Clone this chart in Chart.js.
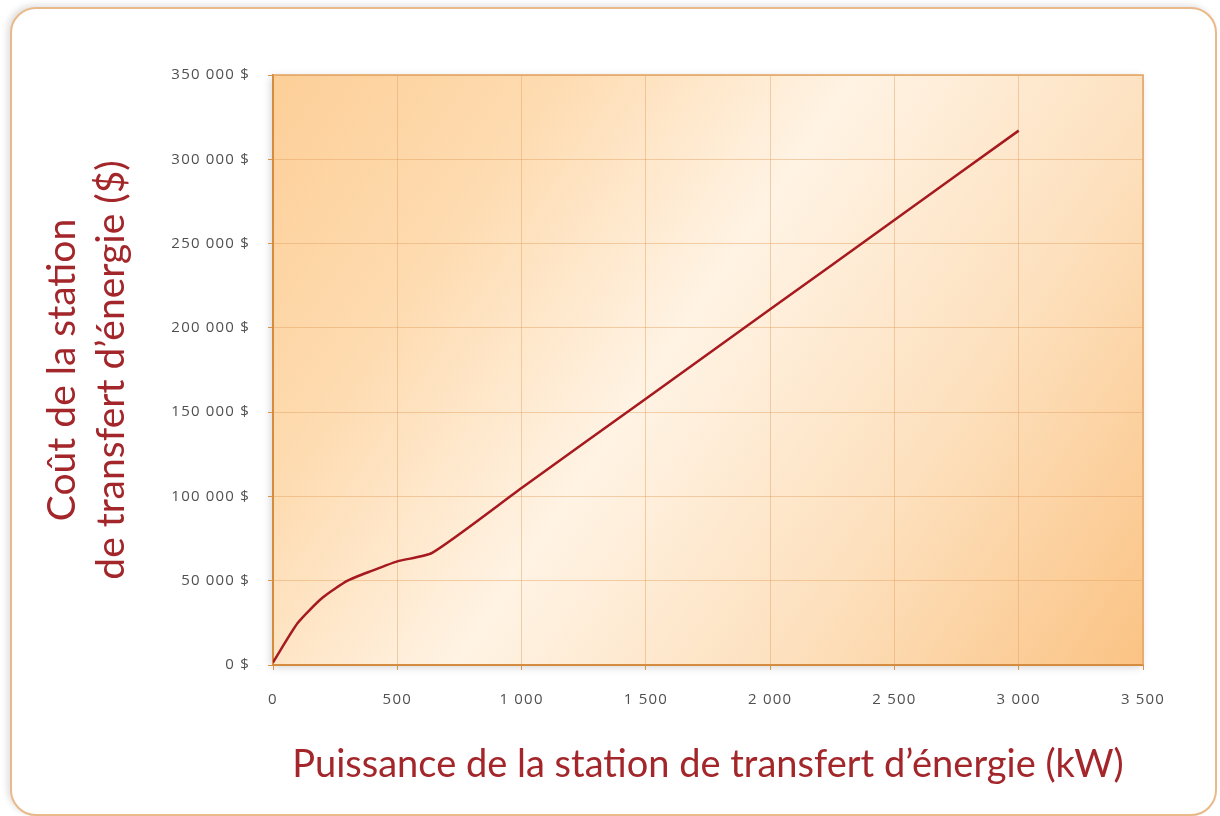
<!DOCTYPE html>
<html><head><meta charset="utf-8">
<script src="https://cdn.jsdelivr.net/npm/chart.js@4"></script>
<style>
html,body{margin:0;padding:0;background:#fff;}
#wrap{position:relative;width:1220px;height:816px;overflow:hidden;}
#frame{position:absolute;left:10px;top:7px;width:1203px;height:805px;border:2px solid #eab98a;border-radius:26px;box-shadow:-3px -2px 6px rgba(0,0,0,0.12);background:#fff;}
#c{position:absolute;left:0;top:0;}
</style></head><body>
<div id="wrap"><div id="frame"></div><canvas id="c" width="1220" height="816"></canvas></div>
<script>
const powerKW = [0, 100, 200, 300, 400, 500, 640, 1000, 1500, 2000, 2500, 3000];
const costUSD = [1500, 25000, 40000, 50000, 56000, 61500, 66500, 105000, 158000, 211000, 264000, 317000];
const xTicks = [0, 500, 1000, 1500, 2000, 2500, 3000, 3500];
const yTicks = [0, 50000, 100000, 150000, 200000, 250000, 300000, 350000];
const xTitle = 'Puissance de la station de transfert d\u2019énergie (kW)';
const yTitle = ['Coût de la station', 'de transfert d\u2019énergie ($)'];

const fmt = v => String(Math.round(v)).replace(/\B(?=(\d{3})+(?!\d))/g, '\u00a0');

const bgPlugin = {
  id: 'bg',
  beforeDraw(chart) {
    const {ctx, chartArea: a} = chart;
    ctx.letterSpacing = '0px';
    const g = ctx.createLinearGradient(a.left, a.top, a.right, a.bottom);
    g.addColorStop(0, '#fdcf98');
    g.addColorStop(0.22, '#fedbb0');
    g.addColorStop(0.46, '#fff3e4');
    g.addColorStop(0.72, '#fde0bd');
    g.addColorStop(1, '#fbc384');
    ctx.save();
    ctx.shadowColor = 'rgba(0,0,0,0.18)';
    ctx.shadowBlur = 8;
    ctx.shadowOffsetX = -2;
    ctx.shadowOffsetY = 2;
    ctx.fillStyle = g;
    ctx.fillRect(a.left, a.top, a.right - a.left, a.bottom - a.top);
    ctx.restore();
  },
  afterDatasetsDraw(chart) {
    const {ctx, chartArea: a} = chart;
    ctx.save();
    ctx.strokeStyle = '#e2a462';
    ctx.lineWidth = 1.5;
    ctx.beginPath();
    ctx.moveTo(a.left, a.top);
    ctx.lineTo(a.right, a.top);
    ctx.lineTo(a.right, a.bottom);
    ctx.stroke();
    ctx.restore();
    ctx.letterSpacing = '1.2px';
  },
  afterDraw(chart) {
    chart.ctx.letterSpacing = '0px';
  }
};

new Chart(document.getElementById('c'), {
  type: 'scatter',
  data: {
    datasets: [{
      data: powerKW.map((x, i) => ({x, y: costUSD[i]})),
      showLine: true,
      borderColor: '#a5191f',
      borderWidth: 2.5,
      pointRadius: 0,
      tension: 0.2,
      fill: false
    }]
  },
  options: {
    responsive: false,
    animation: false,
    devicePixelRatio: 1,
    layout: {padding: {left: 0, top: 75, right: 77, bottom: 0}},
    plugins: {legend: {display: false}, tooltip: {enabled: false}},
    scales: {
      x: {
        type: 'linear', min: 0, max: 3500,
        afterBuildTicks: s => { s.ticks = xTicks.map(v => ({value: v})); },
        afterFit: s => { s.height = 151; s.paddingLeft = 0; s.paddingRight = 0; },
        ticks: {z: 1, callback: v => fmt(v), color: '#505050', font: {family: 'Open Sans', size: 15}, padding: 21, maxRotation: 0},
        grid: {color: 'rgba(228,160,95,0.45)', lineWidth: 1, tickLength: 5, tickColor: '#d99449'},
        border: {color: '#d68c3e', width: 2},
        title: {display: true, text: xTitle, color: '#a3262b', font: {family: 'Lato', size: 38, lineHeight: 1.29}, padding: {top: 0, bottom: 27}}
      },
      y: {
        type: 'linear', min: 0, max: 350000,
        afterBuildTicks: s => { s.ticks = yTicks.map(v => ({value: v})); },
        afterFit: s => { s.width = 273; s.paddingTop = 0; s.paddingBottom = 0; },
        ticks: {z: 1, callback: v => fmt(v) + '\u00a0$', color: '#505050', font: {family: 'Open Sans', size: 15}, padding: 18},
        grid: {color: 'rgba(228,160,95,0.45)', lineWidth: 1, tickLength: 5, tickColor: '#d99449'},
        border: {color: '#d68c3e', width: 2},
        title: {display: true, text: yTitle, color: '#a3262b', font: {family: 'Lato', size: 39, lineHeight: 1.256}, padding: {top: 38, bottom: 0}}
      }
    }
  },
  plugins: [bgPlugin]
});
</script>
</body></html>
